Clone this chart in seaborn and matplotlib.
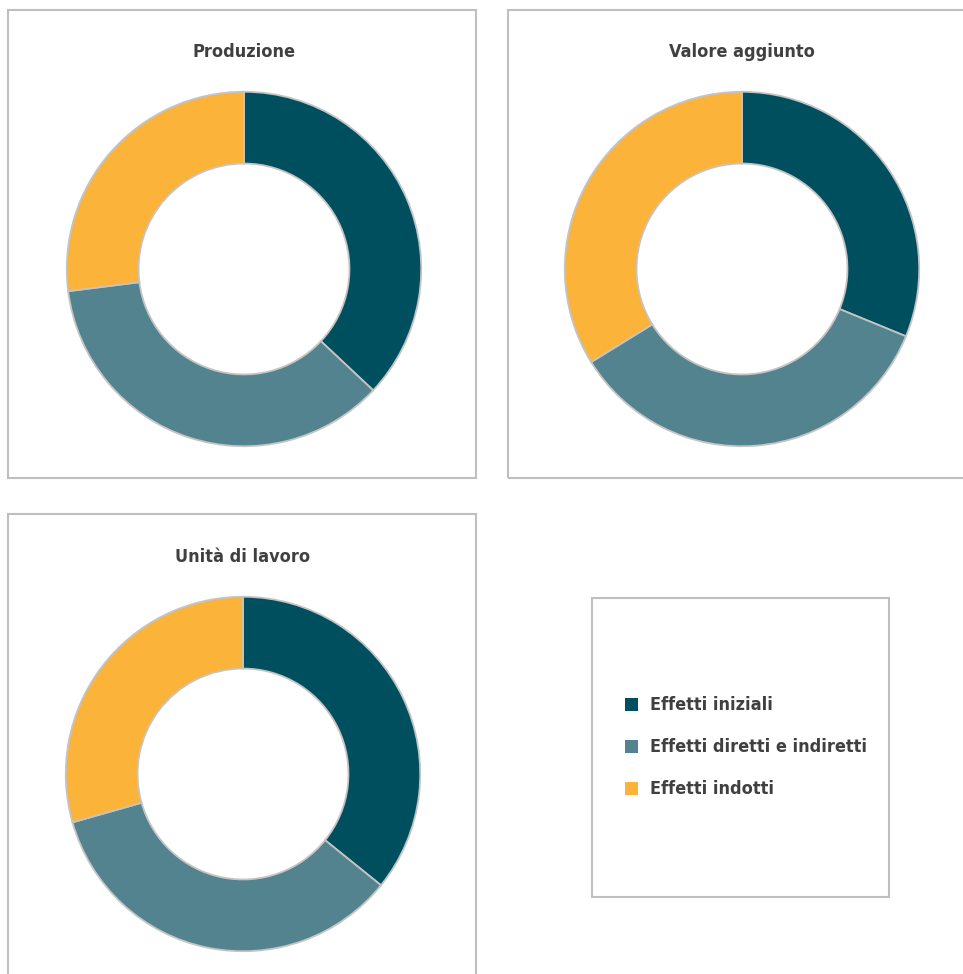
import matplotlib
matplotlib.use("Agg")
import matplotlib.pyplot as plt
from matplotlib.patches import Rectangle
import seaborn as sns

# dati (quote percentuali)
categorie = ['Effetti iniziali', 'Effetti diretti e indiretti', 'Effetti indotti']
produzione = [37.0, 36.0, 27.0]
valore_aggiunto = [31.2, 35.0, 33.8]
unita_lavoro = [35.8, 34.8, 29.4]
titoli = ['Produzione', 'Valore aggiunto', 'Unità di lavoro']
colori = ['#004F5F', '#52838F', '#FBB33A']

sns.set_theme(style="white")
plt.rcParams['font.family'] = ['DejaVu Sans']

W, H = 963, 974
fig = plt.figure(figsize=(W / 100, H / 100), dpi=100)
fig.patch.set_facecolor('white')
testo = dict(fontweight='bold', color='#404040', fontstretch='condensed')


def box(x0, y0, x1, y1):
    # riquadro in pixel (origine in alto a sinistra)
    r = Rectangle((x0 / W, 1 - y1 / H), (x1 - x0) / W, (y1 - y0) / H,
                  transform=fig.transFigure, fill=False,
                  edgecolor='#BFBFBF', linewidth=1.5)
    fig.patches.append(r)


def ciambella(cx, cy, valori, titolo):
    r = 179
    ax = fig.add_axes([(cx - r) / W, 1 - (cy + r) / H, 2 * r / W, 2 * r / H])
    ax.pie(valori, colors=colori, startangle=90, counterclock=False,
           radius=1.0,
           wedgeprops=dict(width=0.405, edgecolor='#C4C4C4', linewidth=1.3))
    ax.set_aspect('equal')
    ax.set_xlim(-1.01, 1.01)
    ax.set_ylim(-1.01, 1.01)
    ax.axis('off')
    fig.text(cx / W, 1 - (cy - 217) / H, titolo, ha='center', va='center',
             fontsize=13, **testo)


box(8, 10, 476, 478)
box(508, 10, 990, 478)
box(8, 514, 476, 990)
box(592, 598, 889, 897)

ciambella(244, 269, produzione, titoli[0])
ciambella(742, 269, valore_aggiunto, titoli[1])
ciambella(243, 774, unita_lavoro, titoli[2])

# legenda
for i, (nome, col) in enumerate(zip(categorie, colori)):
    y = 705 + 42 * i
    fig.patches.append(Rectangle((625 / W, 1 - (y + 6) / H), 13 / W, 13 / H,
                                 transform=fig.transFigure, facecolor=col,
                                 edgecolor='none'))
    fig.text(650 / W, 1 - y / H, nome, ha='left', va='center',
             fontsize=13, **testo)

fig.savefig('out.png', dpi=100, facecolor='white')
